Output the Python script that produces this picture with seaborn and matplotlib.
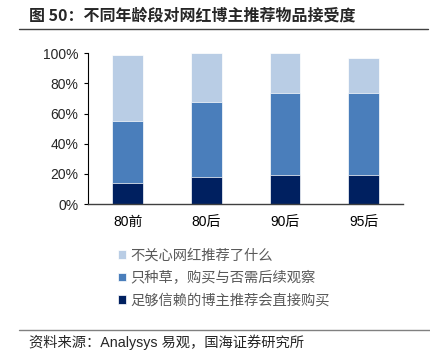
import matplotlib
matplotlib.use("Agg")
import matplotlib.pyplot as plt
import matplotlib.ticker as mticker
import numpy as np
import pandas as pd
import seaborn as sns

groups = ['80前', '80后', '90后', '95后']
direct_buy = [14, 18, 19, 19]
wait_see = [41, 50, 55, 55]
dont_care = [44, 32, 26, 23]
labels = ['不关心网红推荐了什么', '只种草，购买与否需后续观察', '足够信赖的博主推荐会直接购买']
colors = ['#B9CDE5', '#4A7EBB', '#002060']

sns.set_style('white')
plt.rcParams['font.family'] = ['Liberation Sans', 'Noto Sans CJK SC', 'DejaVu Sans']

df = pd.DataFrame({'group': groups,
                   'a': np.array(direct_buy) / 100,
                   'b': np.array(wait_see) / 100,
                   'c': np.array(dont_care) / 100})
df['ab'] = df['a'] + df['b']
df['abc'] = df['ab'] + df['c']

fig = plt.figure(figsize=(4.3, 3.51), dpi=100)
ax = fig.add_axes([0.2053, 0.4188, 0.937 - 0.2053, 0.848 - 0.4188])

# stacked bars: draw cumulative totals from back to front
for col, c, lab in zip(['abc', 'ab', 'a'], colors, labels):
    sns.barplot(data=df, x='group', y=col, color=c, width=0.39, label=lab,
                edgecolor='white', linewidth=0.5, saturation=1, ax=ax)

ax.set_ylim(0, 1)
ax.set_xlim(-0.5, 3.5)
ax.yaxis.set_major_locator(mticker.MultipleLocator(0.2))
ax.yaxis.set_major_formatter(mticker.FuncFormatter(lambda v, p: f'{v * 100:.0f}%'))
ax.set_xlabel('')
ax.set_ylabel('')
ax.set_xticks([-0.5, 0.5, 1.5, 2.5, 3.5], minor=True)
ax.tick_params(axis='x', which='major', length=0, labelsize=10, pad=8, colors='#000000')
ax.tick_params(axis='x', which='minor', direction='in', length=3, width=0.8, color='#404040')
ax.tick_params(axis='y', length=3, width=0.8, direction='out', labelsize=10, pad=4, left=True, color='#000000')
for s in ['top', 'right']:
    ax.spines[s].set_visible(False)
ax.spines['left'].set_color('#000000')
ax.spines['left'].set_linewidth(0.8)
ax.spines['bottom'].set_color('#404040')
ax.spines['bottom'].set_linewidth(1.0)
if ax.legend_:
    ax.legend_.remove()

handles, hl = ax.get_legend_handles_labels()
fig.legend(handles, hl, loc='upper left', bbox_to_anchor=(0.275, 0.292), frameon=False,
           fontsize=10.3, handlelength=0.55, handleheight=0.55, handletextpad=0.3,
           labelspacing=0.6, labelcolor='#595959', borderaxespad=0, borderpad=0)

fig.text(0.068, 0.955, '图 50：不同年龄段对网红博主推荐物品接受度', fontsize=11.5, fontweight='bold',
         family=['Noto Sans CJK SC'], va='center', ha='left')
fig.add_artist(plt.Line2D([0.045, 0.995], [0.917, 0.917], color='#404040', linewidth=1))
fig.add_artist(plt.Line2D([0.045, 1.0], [0.06, 0.06], color='#808080', linewidth=1))
fig.text(0.068, 0.025, '资料来源：Analysys 易观，国海证券研究所', fontsize=10.3, va='center', ha='left')

plt.savefig('out.png', dpi=100)
